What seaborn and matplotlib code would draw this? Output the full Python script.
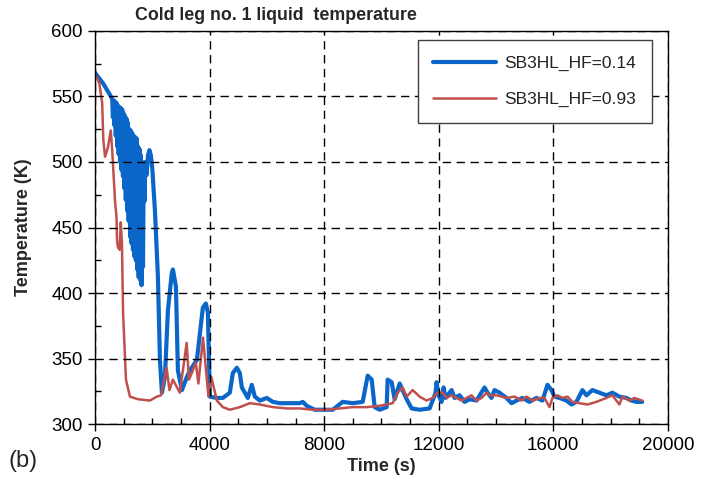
import matplotlib
matplotlib.use("Agg")
import matplotlib.pyplot as plt
import seaborn as sns
import pandas as pd
from matplotlib.ticker import MultipleLocator

# ---- data ----
time_hf014 = [0, 280, 500, 600, 625, 650, 675, 700, 725, 750, 775, 800, 825, 850, 875, 900, 925,
              950, 975, 1000, 1025, 1050, 1075, 1100, 1125, 1150, 1175, 1200, 1225, 1250, 1275,
              1300, 1325, 1350, 1375, 1400, 1425, 1450, 1475, 1500, 1525, 1550, 1575, 1600, 1625,
              1650, 1675, 1700, 1725, 1760, 1800, 1850, 1900, 1950, 2000, 2092, 2197, 2267, 2336,
              2441, 2546, 2680, 2720, 2825, 2894, 3034, 3208, 3313, 3557, 3766, 3870, 3940, 4010,
              4254, 4463, 4707, 4812, 4951, 5056, 5126, 5335, 5475, 5579, 5754, 5998, 6207, 6451,
              6800, 7148, 7253, 7392, 7671, 7950, 8299, 8648, 8996, 9345, 9520, 9659, 9764, 9938,
              10182, 10217, 10357, 10461, 10636, 10740, 10880, 11054, 11333, 11682, 11891, 11925,
              11995, 12100, 12170, 12239, 12309, 12449, 12553, 12728, 12902, 13076, 13320, 13599,
              13704, 13843, 13948, 14122, 14366, 14541, 14715, 14924, 15168, 15413, 15622, 15796,
              15936, 16040, 16215, 16459, 16633, 16807, 17017, 17156, 17365, 17609, 17853, 18063,
              18307, 18551, 18726, 18900, 19100]
temp_hf014 = [568, 560, 552, 548, 534, 547, 528, 546, 520, 545, 512, 543, 506, 542, 500, 541, 494,
              540, 489, 537, 480, 535, 471, 533, 463, 530, 455, 525, 443, 524, 438,
              522, 433, 520, 428, 519, 425, 518, 418, 512, 412, 510, 410, 505, 406,
              500, 420, 495, 470, 500, 490, 505, 509, 505, 495, 463, 412, 349, 324,
              336, 387, 415, 418, 405, 341, 326, 336, 341, 349, 389, 392, 385, 321,
              320, 320, 324, 339, 343, 339, 328, 320, 330, 321, 318, 320, 317, 316,
              316, 316, 317, 314, 311, 311, 311, 317, 316, 317, 337, 334, 313, 311,
              313, 334, 332, 319, 331, 326, 319, 312, 311, 312, 324, 332,
              322, 317, 328, 320, 322, 326, 320, 322, 317, 319, 318, 328,
              324, 320, 326, 324, 320, 316, 318, 320, 317, 320, 318, 330,
              326, 321, 320, 318, 315, 317, 326, 322, 326, 324, 322, 324,
              321, 320, 318, 317, 317]

time_hf093 = [0, 150, 250, 290, 350, 450, 550, 600, 700, 750, 770, 800, 860, 900, 940, 980,
              1080, 1220, 1500, 1920, 2160, 2300, 2500, 2600, 2720, 2960, 3200, 3280, 3380,
              3520, 3610, 3770, 3850, 3960, 4060, 4254, 4463, 4707, 5056, 5405, 5754, 6207,
              6695, 7148, 7602, 8090, 8543, 8996, 9485, 9938, 10391, 10566, 10740, 10880, 11089,
              11333, 11577, 11786, 11960, 12135, 12274, 12449, 12623, 12797, 12972, 13146, 13320,
              13495, 13669, 13774, 14018, 14192, 14366, 14645, 14889, 15064, 15273, 15517, 15692,
              15866, 15971, 16145, 16319, 16494, 16668, 16912, 17191, 17504, 17853, 18063, 18307,
              18412, 18656, 18830, 19100]
temp_hf093 = [567, 560, 545, 517, 504, 511, 524, 509, 470, 458, 440, 435, 433, 454, 438, 385,
              334, 321, 319, 318, 321, 322, 343, 326, 334, 324, 362, 334, 339,
              347, 331, 366, 347, 321, 336, 318, 313, 311, 313, 316, 315, 313,
              312, 312, 311, 311, 312, 313, 313, 314, 316, 324, 328, 321, 326,
              321, 318, 320, 324, 324, 320, 322, 320, 318, 320, 322, 318,
              320, 324, 322, 322, 321, 320, 321, 318, 321, 318, 320, 320,
              313, 320, 322, 320, 321, 317, 316, 315, 317, 320, 322, 315,
              321, 318, 320, 318]

series_names = ["SB3HL_HF=0.14", "SB3HL_HF=0.93"]
title_text = "Cold leg no. 1 liquid  temperature"
x_label = "Time (s)"
y_label = "Temperature (K)"
x_ticks = [0, 4000, 8000, 12000, 16000, 20000]
y_ticks = [300, 350, 400, 450, 500, 550, 600]

df = pd.concat([
    pd.DataFrame({"t": time_hf014, "T": temp_hf014, "case": series_names[0]}),
    pd.DataFrame({"t": time_hf093, "T": temp_hf093, "case": series_names[1]}),
], ignore_index=True)

sns.set_theme(style="white")
plt.rcParams["font.family"] = ["Liberation Sans", "DejaVu Sans"]

fig = plt.figure(figsize=(7.09, 4.82), dpi=100)
ax = fig.add_axes([0.134, 0.120, 0.808, 0.816])

colors = {series_names[0]: "#0a66c8", series_names[1]: "#c0504d"}
widths = {series_names[0]: 3.0, series_names[1]: 1.8}
for name in series_names:
    sub = df[df["case"] == name]
    sns.lineplot(data=sub, x="t", y="T", ax=ax, color=colors[name], lw=widths[name],
                 estimator=None, sort=False, label=name, zorder=2)

ax.set_xlim(0, 20000)
ax.set_ylim(300, 600)
ax.set_xticks(x_ticks)
ax.set_yticks(y_ticks)
ax.xaxis.set_minor_locator(MultipleLocator(1000))
ax.yaxis.set_minor_locator(MultipleLocator(25))
ax.tick_params(axis="both", which="major", direction="out", length=5, width=1,
               colors="black", labelsize=13.5, pad=4, bottom=True, left=True)
ax.tick_params(axis="both", which="minor", direction="in", length=4, width=1,
               colors="black", bottom=True, left=True)
ax.set_axisbelow(False)
ax.grid(True, which="major", color="black", linestyle=(0, (6, 4)), linewidth=1.0)
for sp in ax.spines.values():
    sp.set_visible(True)
    sp.set_color("black")
    sp.set_linewidth(1.0)

ax.set_xlabel(x_label, fontsize=13, fontweight="bold", labelpad=3)
ax.set_ylabel(y_label, fontsize=13, fontweight="bold", labelpad=14)
ax.text(0.316, 1.027, title_text, transform=ax.transAxes, ha="center", va="baseline",
        fontsize=12.8, fontweight="bold")
fig.text(0.012, 0.02, "(b)", fontsize=17, ha="left", va="bottom")

leg = ax.legend(loc="upper right", bbox_to_anchor=(0.972, 0.977), fontsize=12.5,
                frameon=True, fancybox=False, edgecolor="#404040", framealpha=1,
                handlelength=3.6, labelspacing=1.2, borderpad=0.9, handletextpad=0.5,
                borderaxespad=0)
leg.get_frame().set_linewidth(1.0)
for txt in leg.get_texts():
    txt.set_color("#222222")

fig.savefig("out.png", dpi=100)
